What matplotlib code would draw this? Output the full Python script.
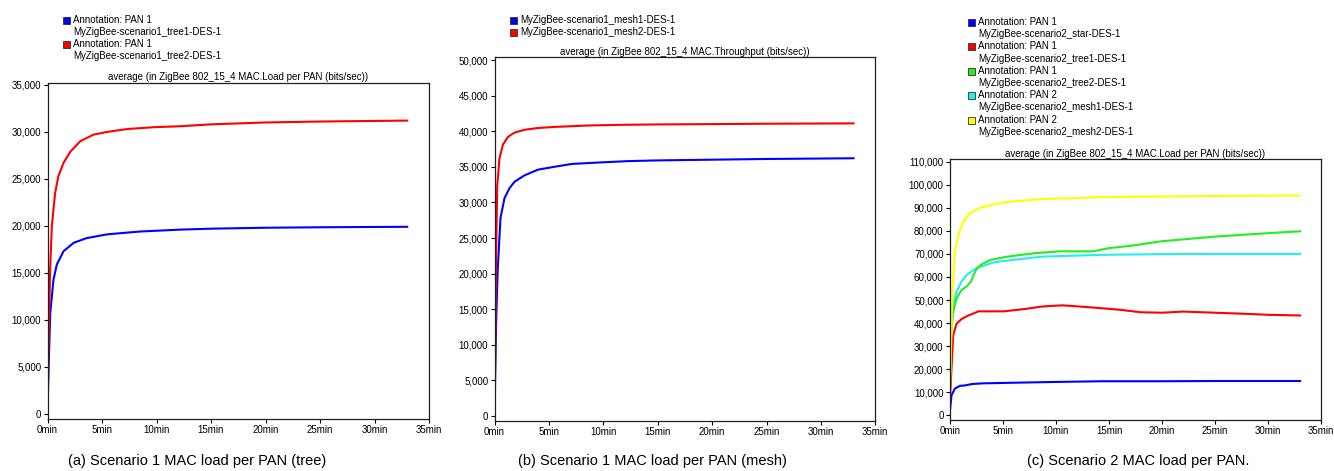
import matplotlib
matplotlib.use("Agg")
import matplotlib.pyplot as plt
from matplotlib.patches import Rectangle
from matplotlib.ticker import FuncFormatter, MultipleLocator

plt.rcParams['font.family'] = ['Liberation Sans', 'DejaVu Sans']

W, H = 1334, 471

# ---------------- data (minutes, bits/sec) ----------------
a_t_red = [0, 0.09, 0.25, 0.4, 0.7, 1.0, 1.47, 2.1, 3.0, 4.2, 5.5, 7.3, 9.8, 12.2, 15, 20, 25, 33]
a_red = [0, 7200, 15700, 20000, 23500, 25300, 26700, 27900, 29000, 29700, 30000, 30300, 30500, 30600, 30800, 31000, 31100, 31200]
a_t_blue = [0, 0.09, 0.25, 0.55, 0.86, 1.47, 2.4, 3.6, 5.5, 8.5, 12.2, 15, 20, 25, 33]
a_blue = [0, 4400, 10700, 14300, 15900, 17300, 18200, 18700, 19100, 19400, 19600, 19700, 19800, 19850, 19900]

b_t_red = [0, 0.15, 0.25, 0.46, 0.77, 1.23, 1.84, 2.76, 4.0, 5.5, 8.6, 11.7, 15, 20, 25, 33]
b_red = [0, 22600, 32400, 36200, 38100, 39200, 39800, 40200, 40450, 40600, 40800, 40900, 40950, 41000, 41050, 41100]
b_t_blue = [0, 0.15, 0.3, 0.55, 0.92, 1.38, 1.84, 2.76, 4.0, 5.5, 7.1, 9.5, 12.3, 15, 20, 25, 33]
b_blue = [0, 13200, 20700, 27800, 30600, 32000, 32900, 33800, 34600, 35000, 35400, 35600, 35800, 35900, 36000, 36100, 36200]

c_t_yellow = [0, 0.06, 0.26, 0.48, 0.8, 1.28, 1.9, 2.9, 4.2, 5.4, 8.7, 11.9, 14.4, 20, 25, 33]
c_yellow = [10000, 19000, 55000, 71000, 78000, 84000, 87700, 90100, 91600, 92500, 93800, 94200, 94600, 94900, 95100, 95300]
c_t_green = [0, 0.16, 0.32, 0.64, 1.1, 1.6, 2.0, 2.24, 2.56, 3.0, 3.85, 5.4, 8.0, 10.3, 13.5, 15, 17, 20, 25, 30, 33]
c_green = [12000, 37700, 45000, 50700, 54300, 56000, 58000, 60900, 63800, 65500, 67400, 68800, 70300, 71100, 71100, 72500, 73500, 75500, 77500, 79000, 79800]
c_t_cyan = [0, 0.16, 0.32, 0.64, 1.1, 1.6, 2.24, 2.9, 4.2, 5.4, 8.7, 14.4, 20, 25, 33]
c_cyan = [15000, 40600, 47800, 53600, 58000, 60900, 63000, 64500, 66400, 67100, 68800, 69600, 69900, 70000, 70000]
c_t_red = [0, 0.06, 0.32, 0.64, 1.1, 1.6, 2.24, 2.7, 5.1, 7.05, 8.7, 10.6, 12.5, 14.4, 16, 18, 20, 22, 25, 28, 30, 33]
c_red = [5000, 11600, 34800, 39800, 41700, 43000, 44200, 45100, 45100, 46100, 47200, 47700, 47100, 46400, 45800, 44700, 44500, 45000, 44500, 44000, 43600, 43300]
c_t_blue = [0, 0.16, 0.48, 0.96, 1.44, 2.1, 3.2, 5.4, 10, 14.4, 20, 25, 33]
c_blue = [1400, 8700, 11600, 12800, 13000, 13600, 13900, 14100, 14500, 14800, 14800, 14900, 14900]

BLUE, RED, GREEN, CYAN, YELLOW = '#0000ff', '#ff0000', '#22ee22', '#22eeee', '#ffff00'

fig = plt.figure(figsize=(W / 100, H / 100), dpi=100)


def add_ax(l, r, t, b):
    return fig.add_axes([l / W, (H - b) / H, (r - l) / W, (b - t) / H])


def style(ax, ystep, ylim):
    ax.set_xlim(0, 35)
    ax.set_ylim(*ylim)
    ax.xaxis.set_major_locator(MultipleLocator(5))
    ax.yaxis.set_major_locator(MultipleLocator(ystep))
    ax.xaxis.set_major_formatter(FuncFormatter(lambda v, p: f"{int(v)}min"))
    ax.yaxis.set_major_formatter(FuncFormatter(lambda v, p: f"{int(v):,}"))
    ax.tick_params(axis='both', labelsize=7, length=3, width=0.8, pad=1.5, colors='black')
    for s in ax.spines.values():
        s.set_linewidth(0.9)
        s.set_color('#202020')


def legend(x, y0, dy, entries):
    # entries: list of (color or None, text)
    y = y0
    for col, txt in entries:
        if col is not None:
            fig.patches.append(Rectangle(((x) / W, (H - y - 4) / H), 7 / W, 7 / H,
                                         transform=fig.transFigure, facecolor=col,
                                         edgecolor='#303030', linewidth=0.6))
        fig.text((x + 10) / W, (H - y) / H, txt, fontsize=7, va='center', ha='left')
        y += dy


LW = 1.5

# ---- panel a ----
axa = add_ax(47.5, 429, 83, 419)
axa.plot(a_t_blue, a_blue, color=BLUE, lw=LW)
axa.plot(a_t_red, a_red, color=RED, lw=LW)
style(axa, 5000, (-550, 35200))
axa.set_title("average (in ZigBee 802_15_4 MAC.Load per PAN (bits/sec))", fontsize=7, pad=2)
legend(63, 20, 12, [(BLUE, "Annotation: PAN 1"), (None, "MyZigBee-scenario1_tree1-DES-1"),
                    (RED, "Annotation: PAN 1"), (None, "MyZigBee-scenario1_tree2-DES-1")])
fig.text(197 / W, (H - 461) / H, "(a) Scenario 1 MAC load per PAN (tree)", fontsize=10.5,
         ha='center', va='center')

# ---- panel b ----
axb = add_ax(494.5, 875.3, 57.3, 421)
axb.plot(b_t_blue, b_blue, color=BLUE, lw=LW)
axb.plot(b_t_red, b_red, color=RED, lw=LW)
style(axb, 5000, (-700, 50380))
axb.set_title("average (in ZigBee 802_15_4 MAC.Throughput (bits/sec))", fontsize=7, pad=2)
legend(510, 20, 12, [(BLUE, "MyZigBee-scenario1_mesh1-DES-1"), (RED, "MyZigBee-scenario1_mesh2-DES-1")])
fig.text(652 / W, (H - 461) / H, "(b) Scenario 1 MAC load per PAN (mesh)", fontsize=10.5,
         ha='center', va='center')

# ---- panel c ----
axc = add_ax(949.8, 1321.3, 159.3, 420)
axc.plot(c_t_blue, c_blue, color=BLUE, lw=LW)
axc.plot(c_t_red, c_red, color=RED, lw=LW)
axc.plot(c_t_cyan, c_cyan, color=CYAN, lw=LW)
axc.plot(c_t_green, c_green, color=GREEN, lw=LW)
axc.plot(c_t_yellow, c_yellow, color=YELLOW, lw=LW)
style(axc, 10000, (-2000, 111000))
axc.set_title("average (in ZigBee 802_15_4 MAC.Load per PAN (bits/sec))", fontsize=7, pad=2)
legend(968, 22, 12.2, [(BLUE, "Annotation: PAN 1"), (None, "MyZigBee-scenario2_star-DES-1"),
                       (RED, "Annotation: PAN 1"), (None, "MyZigBee-scenario2_tree1-DES-1"),
                       (GREEN, "Annotation: PAN 1"), (None, "MyZigBee-scenario2_tree2-DES-1"),
                       (CYAN, "Annotation: PAN 2"), (None, "MyZigBee-scenario2_mesh1-DES-1"),
                       (YELLOW, "Annotation: PAN 2"), (None, "MyZigBee-scenario2_mesh2-DES-1")])
fig.text(1138 / W, (H - 461) / H, "(c) Scenario 2 MAC load per PAN.", fontsize=10.5,
         ha='center', va='center')

fig.savefig("out.png", dpi=100)
